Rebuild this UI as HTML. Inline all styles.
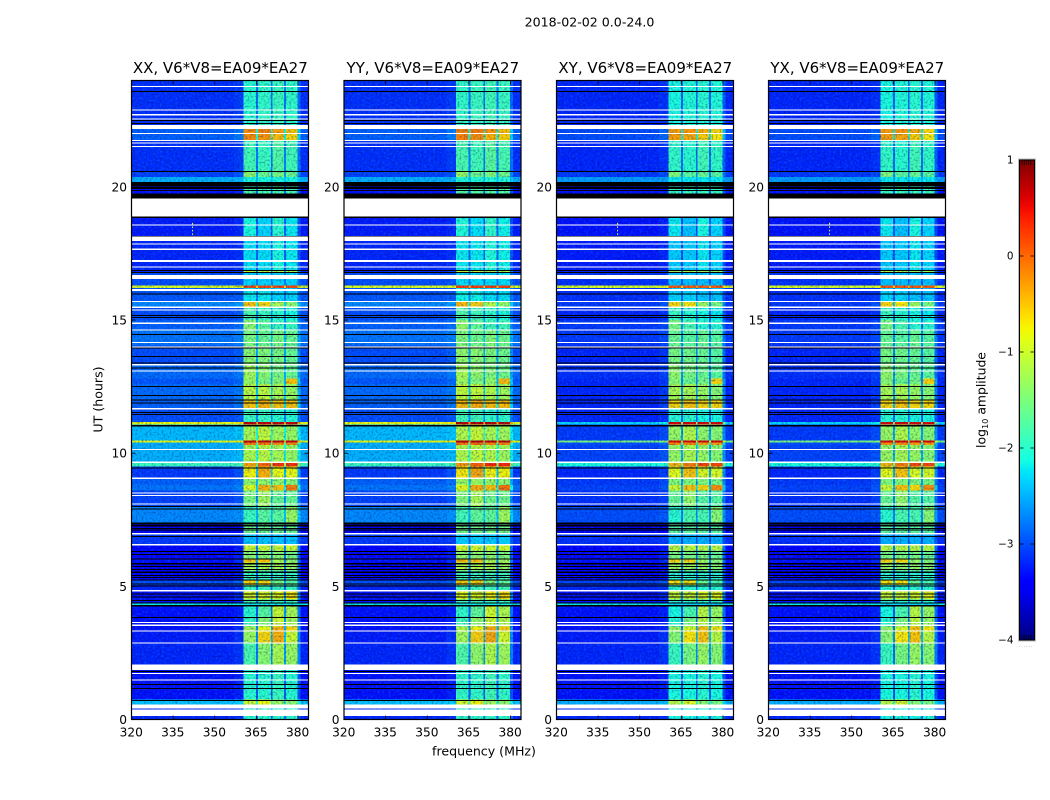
<!DOCTYPE html>
<html>
<head>
<meta charset="utf-8">
<title>2018-02-02 0.0-24.0</title>
<style>
html,body{margin:0;padding:0;background:#fff;width:1050px;height:800px;overflow:hidden}
svg{position:absolute;left:0;top:0;display:block}
text{font-family:"DejaVu Sans","Liberation Sans",sans-serif;fill:#000}
</style>
</head>
<body>
<svg id="chart" width="1050" height="800" viewBox="0 0 1050 800" xmlns="http://www.w3.org/2000/svg">
  <defs>
    <filter id="speckleDark" filterUnits="objectBoundingBox" x="0" y="0" width="1" height="1" color-interpolation-filters="sRGB">
      <feTurbulence type="fractalNoise" baseFrequency="0.5" numOctaves="1" seed="4"/>
      <feColorMatrix type="matrix" values="0 0 0 0 0  0 0 0 0 0  0 0 0 0 0.35  3.2 0 0 0 -1.45"/>
    </filter>
    <filter id="speckleLight" filterUnits="objectBoundingBox" x="0" y="0" width="1" height="1" color-interpolation-filters="sRGB">
      <feTurbulence type="fractalNoise" baseFrequency="0.45" numOctaves="1" seed="11"/>
      <feColorMatrix type="matrix" values="0 0 0 0 0.1  0 0 0 0 0.65  0 0 0 0 1  3.2 0 0 0 -1.5"/>
    </filter>
    <linearGradient id="colorbarGradient" x1="0" y1="1" x2="0" y2="0"></linearGradient>
  </defs>
  <text x="589.5" y="26.5" text-anchor="middle" font-size="12.6">2018-02-02 0.0-24.0</text>
  <text x="484" y="755.5" text-anchor="middle" font-size="12.6">frequency (MHz)</text>
  <text transform="translate(102.5,399.5) rotate(-90)" text-anchor="middle" font-size="12.6">UT (hours)</text>
  <text transform="translate(985.5,400) rotate(-90)" text-anchor="middle" font-size="12.4">log<tspan font-size="8.2" dy="2.5">10</tspan><tspan dy="-2.5"> amplitude</tspan></text>
  <g id="panels"></g>
  <g id="colorbar"></g>
</svg>
<script>
// ---- Figure data ----
const panelTitles = ['XX, V6*V8=EA09*EA27', 'YY, V6*V8=EA09*EA27', 'XY, V6*V8=EA09*EA27', 'YX, V6*V8=EA09*EA27'];
const panelIsCross = [false, false, true, true];
const panelSbOffset = [0, 0.05, -0.1, -0.1];
const panelHasRfi = [true, false, true, true];
const freqTicks = [320, 335, 350, 365, 380];
const utTicks = [0, 5, 10, 15, 20];
const colorbarTicks = [1, 0, -1, -2, -3, -4];

// Frequency column edges (MHz) and, per column, which sub-band it follows and how strongly
const freqEdges = [320, 357, 360.4, 364.8, 365.6, 370.2, 370.8, 375, 375.6, 379.8, 381, 383.8];
const columnSubband = [0, 0, 0, 0, 1, 1, 2, 2, 3, 3, 3];
const columnWeight = [0, 0.05, 1, 0.3, 1, 0.3, 1, 0.3, 1, 0.25, 0];

// UT band edges (hours, top to bottom) and log10 amplitude per band
const utEdges = [24, 22.33, 22.17, 22, 21.76, 20.6, 20.37, 20.19, 18.88, 18.16, 16.88, 16.77, 16.29, 16.2, 15.71, 15.5, 15, 14.6, 14.05, 13.35, 12.8, 12.6, 12, 11.65, 11.18, 11.07, 10.47, 10.4, 10.3, 9.68, 9.5, 9.05, 8.8, 8.6, 8, 7.4, 7, 6.55, 6.35, 6, 5.9, 5.6, 5.24, 5.05, 4.85, 4.5, 4.39, 4.3, 3.84, 3.5, 3.3, 2.88, 1.86, 0.75, 0.56, 0];
const bgCoPol = [-3.15, -3.15, -2.9, -2.9, -3.15, -3.05, -2.5, -3.3, -3.25, -3.2, -3.2, -3, -0.9, -2.95, -2.7, -3, -2.9, -2.8, -3, -2.85, -2.95, -2.85, -2.9, -3, -0.8, -2.45, -0.8, -2.5, -2.5, -1.9, -3.1, -2.9, -2.8, -3.05, -2.7, -3.5, -3.1, -3.4, -3.35, -3.3, -3.4, -3.35, -3, -3.2, -3.3, -3.3, -2.2, -3.3, -3.3, -3.3, -3.25, -3.2, -3.3, -2.4, -3.2];
const bgCrossPol = [-3.2, -3.2, -3, -3, -3.2, -3.1, -2.6, -3.3, -3.3, -3.25, -3.25, -3.15, -0.9, -3.15, -3.1, -3.2, -3.1, -3.1, -3.2, -3.15, -3.2, -3.2, -3.2, -3.2, -2.3, -3.1, -1.5, -3, -3.05, -2.1, -3.2, -3.1, -3.05, -3.15, -3, -3.5, -3.15, -3.4, -3.35, -3.3, -3.4, -3.35, -3.05, -3.2, -3.3, -3.3, -2.2, -3.3, -3.3, -3.3, -3.25, -3.2, -3.3, -2.5, -3.2];
const subbandA = [-2, -2, -0.2, -0.2, -1.85, -1.35, -2.1, -1.8, -2.1, -2.25, -1, -2.3, 0.2, -2.2, -0.5, -1.8, -1.4, -1.5, -1.4, -1.25, -1.3, -1.1, -0.5, -1.9, 0.7, -1.2, 0.7, -0.1, -1.2, -0.3, -0.75, -1.35, -0.9, -1.5, -1.9, -1.6, -2.4, -1, -1.4, -0.5, -1.2, -1.9, -0.6, -1.9, -0.9, -1.9, -2.2, -2, -1.9, -1.2, -1.3, -1.8, -2, -1, -2];
const subbandB = [-1.95, -1.95, -0.15, -0.25, -1.9, -1.6, -2.1, -1.8, -2.3, -2.25, -1, -2.3, 0.2, -2.2, -0.6, -1.9, -1.7, -1.6, -1.45, -1.4, -1.5, -1.1, -0.4, -1.9, 0.7, -1.05, 0.7, -0.1, -1.1, 0, -0.4, -1.35, -0.4, -1.25, -1.7, -1.6, -2.4, -1, -1.4, -0.5, -1.2, -1.9, -0.6, -1.9, -0.9, -1.9, -2.2, -1.7, -1.4, -0.8, -0.6, -1.4, -2, -0.8, -2];
const subbandC = [-1.9, -1.9, -0.3, -0.45, -1.75, -1.5, -2.1, -1.8, -2, -2.1, -1.1, -2.3, 0.2, -2.3, -1.2, -2, -1.9, -1.5, -1.5, -1.5, -1.4, -1.2, -0.5, -2, 0.7, -1.25, 0.7, -0.2, -1.2, 0.3, -0.8, -1.35, -0.5, -1.6, -1.7, -1.6, -2.4, -1, -1.4, -1.2, -1.2, -1.9, -1.5, -1.9, -0.8, -1.9, -2.2, -1, -1, -0.4, -0.4, -1.2, -1.9, -1.3, -2];
const subbandD = [-1.95, -1.95, -0.5, -0.6, -1.85, -1.6, -2.1, -1.8, -2.2, -2.2, -1.1, -2.3, 0.2, -2.3, -1.4, -2.1, -1.9, -1.6, -1.6, -1.6, -0.5, -1.3, -0.5, -2, 0.7, -1.3, 0.7, -0.2, -1.3, 0.3, -0.8, -1.4, -0.1, -1.6, -1.3, -1.6, -2.4, -1, -1.5, -1.3, -1.3, -1.9, -1.7, -1.9, -0.7, -1.9, -2.2, -1.2, -1.2, -0.6, -1, -1.3, -2, -1.4, -2];

// Time ranges (UT hours, upper then lower) with no data (white) or zero amplitude (black)
const noDataBands = [[23.79,23.75],[22.91,22.88],[22.73,22.69],[22.57,22.54],[22.33,22.17],[22.02,21.99],[21.76,21.72],[21.67,21.64],[21.53,21.49],[19.57,18.88],[18.59,18.57],[18.13,17.97],[17.88,17.84],[17.68,17.64],[17.25,17.18],[17.02,16.98],[16.69,16.54],[16.16,16.10],[15.71,15.68],[15.50,15.46],[15.40,15.37],[14.90,14.85],[14.65,14.60],[14.18,14.13],[14.00,13.98],[13.35,13.29],[13.10,13.06],[11.70,11.65],[10.16,10.12],[9.68,9.64],[9.09,9.03],[8.53,8.49],[8.43,8.39],[8.12,8.09],[7.01,6.94],[6.59,6.53],[4.86,4.81],[3.66,3.62],[3.56,3.52],[3.35,3.30],[2.90,2.86],[2.07,1.86],[1.75,1.72],[1.51,1.48],[0.56,0.42],[0.38,0.13]];
const zeroAmpBands = [[23.60,23.57],[22.51,22.48],[22.40,22.36],[20.60,20.57],[20.19,20.04],[20.01,19.93],[19.88,19.85],[19.76,19.57],[18.88,18.83],[18.16,18.13],[16.88,16.84],[16.80,16.77],[16.00,15.96],[15.19,15.16],[15.11,15.09],[14.48,14.45],[13.97,13.94],[13.65,13.61],[13.41,13.38],[13.22,13.20],[12.52,12.50],[12.18,12.15],[12.02,12.00],[11.90,11.87],[11.54,11.51],[11.48,11.46],[11.05,11.01],[9.47,9.44],[8.02,7.99],[7.92,7.89],[7.39,7.35],[7.33,7.30],[7.28,7.24],[7.20,7.17],[7.13,7.10],[6.89,6.86],[6.33,6.30],[6.21,6.19],[6.05,6.03],[5.88,5.83],[5.76,5.73],[5.66,5.63],[5.56,5.51],[5.43,5.40],[5.36,5.34],[5.26,5.24],[5.11,5.09],[5.04,5.01],[4.74,4.70],[4.61,4.59],[4.49,4.46],[4.39,4.36],[4.30,4.24],[3.84,3.81],[1.82,1.78],[1.33,1.30],[1.18,1.15],[0.73,0.71]];

// Narrow interference: frequency (MHz), UT span and level
const rfiFreq = 342;
const rfiUtSpan = [18.65, 18.18];
const rfiLevel = -0.9;

// Colour scale limits and colorbar minor ticks (log10 amplitude)
const colorMin = -4;
const colorMax = 1;
const colorbarEdgeTicks = [0.2, 0.4, 0.6, 0.8, 1];

// ---- Layout ----
const panelLefts = [131.5, 344, 556.5, 768.5];
const plot = {top: 80.5, bottom: 719.5, width: 177, freqMin: 320, freqMax: 383.8, utPerPx: 26.63};
const bar = {x: 1019.5, width: 15, top: 160, bottom: 640};
const NS = 'http://www.w3.org/2000/svg';

function xScale(panel, f) { return panelLefts[panel] + (f - plot.freqMin) / (plot.freqMax - plot.freqMin) * plot.width; }
function yScale(ut) { return Math.max(plot.top, Math.min(plot.bottom, plot.bottom - ut * plot.utPerPx)); }
function cScale(v) { return bar.bottom - (v - colorMin) / (colorMax - colorMin) * (bar.bottom - bar.top); }

function ramp(t, pts) {
  for (let i = 1; i < pts.length; i++) {
    if (t <= pts[i][0]) {
      const a = pts[i - 1], b = pts[i];
      return a[1] + (b[1] - a[1]) * (t - a[0]) / (b[0] - a[0]);
    }
  }
  return pts[pts.length - 1][1];
}
const jetR = [[0,0],[0.35,0],[0.66,1],[0.89,1],[1,0.5]];
const jetG = [[0,0],[0.125,0],[0.375,1],[0.64,1],[0.91,0],[1,0]];
const jetB = [[0,0.5],[0.11,1],[0.34,1],[0.65,0],[1,0]];
function jet(v) {
  const t = Math.max(0, Math.min(1, (v - colorMin) / (colorMax - colorMin)));
  const c = [ramp(t, jetR), ramp(t, jetG), ramp(t, jetB)].map(function (x) { return Math.round(x * 255); });
  return 'rgb(' + c[0] + ',' + c[1] + ',' + c[2] + ')';
}
function make(tag, parent, attrs) {
  const el = document.createElementNS(NS, tag);
  for (const k in attrs) el.setAttribute(k, attrs[k]);
  parent.appendChild(el);
  return el;
}

const subbands = [subbandA, subbandB, subbandC, subbandD];
const panelsRoot = document.getElementById('panels');

panelTitles.forEach(function (title, p) {
  const group = make('g', panelsRoot, {});
  
  
  const left = panelLefts[p];
  const bg = panelIsCross[p] ? bgCrossPol : bgCoPol;

  // heatmap cells
  const cells = make('g', group, {'shape-rendering': 'crispEdges'});
  
  
  for (let b = 0; b < utEdges.length - 1; b++) {
    const y0 = yScale(utEdges[b]), y1 = yScale(utEdges[b + 1]);
    for (let c = 0; c < freqEdges.length - 1; c++) {
      const x0 = xScale(p, freqEdges[c]), x1 = xScale(p, freqEdges[c + 1]);
      const sb = subbands[columnSubband[c]][b] + panelSbOffset[p];
      const level = bg[b] + columnWeight[c] * (sb - bg[b]);
      const cell = make('rect', cells, {x: x0.toFixed(2), y: y0.toFixed(2), width: (x1 - x0).toFixed(2), height: (y1 - y0).toFixed(2), fill: jet(level)});
      
      
    }
  }

  // speckle texture
  const speckleLight = make('rect', group, {x: left, y: plot.top, width: plot.width, height: plot.bottom - plot.top, fill: '#000', filter: 'url(#speckleLight)', opacity: 0.24});
  
  
  const speckleDark = make('rect', group, {x: left, y: plot.top, width: plot.width, height: plot.bottom - plot.top, fill: '#000', filter: 'url(#speckleDark)', opacity: 0.32});
  
  

  // narrow interference
  if (panelHasRfi[p]) {
    const rfi = make('line', group, {x1: xScale(p, rfiFreq), x2: xScale(p, rfiFreq), y1: yScale(rfiUtSpan[0]), y2: yScale(rfiUtSpan[1]), stroke: jet(rfiLevel), 'stroke-width': 1, 'stroke-dasharray': '1.5 2'});
    
    
  }

  // masked rows
  const masks = make('g', group, {'shape-rendering': 'crispEdges'});
  
  
  zeroAmpBands.forEach(function (r) {
    const y0 = yScale(r[0]), y1 = yScale(r[1]);
    const row = make('rect', masks, {x: left, y: y0.toFixed(2), width: plot.width, height: Math.max(1, y1 - y0).toFixed(2), fill: '#000'});
    
    
  });
  noDataBands.forEach(function (r) {
    const y0 = yScale(r[0]), y1 = yScale(r[1]);
    const row = make('rect', masks, {x: left, y: y0.toFixed(2), width: plot.width, height: Math.max(1, y1 - y0).toFixed(2), fill: '#fff'});
    
    
  });

  // frame
  const frame = make('rect', group, {x: left, y: plot.top, width: plot.width, height: plot.bottom - plot.top, fill: 'none', stroke: '#000', 'stroke-width': 1.2});
  
  

  // x ticks
  freqTicks.forEach(function (f) {
    const x = xScale(p, f);
    const t1 = make('line', group, {x1: x, x2: x, y1: plot.bottom, y2: plot.bottom - 4, stroke: '#000', 'stroke-width': 0.8});
    
    
    const t2 = make('line', group, {x1: x, x2: x, y1: plot.top, y2: plot.top + 4, stroke: '#000', 'stroke-width': 0.8});
    
    
    const label = make('text', group, {x: x - 0.3, y: 736.5, 'text-anchor': 'middle', 'font-size': 12.2});
    label.textContent = String(f);
    
    
  });

  // y ticks
  utTicks.forEach(function (u) {
    const y = yScale(u);
    const t1 = make('line', group, {x1: left, x2: left + 4, y1: y, y2: y, stroke: '#000', 'stroke-width': 0.8});
    
    
    const t2 = make('line', group, {x1: left + plot.width, x2: left + plot.width - 4, y1: y, y2: y, stroke: '#000', 'stroke-width': 0.8});
    
    
    const label = make('text', group, {x: left - 4.5, y: y + 4.5, 'text-anchor': 'end', 'font-size': 12.2});
    label.textContent = String(u);
    
    
  });

  const titleEl = make('text', group, {x: left + plot.width / 2 + 0.3, y: 73, 'text-anchor': 'middle', 'font-size': 15});
  titleEl.textContent = title;
  
  
});

// ---- Colorbar ----
const gradient = document.getElementById('colorbarGradient');
for (let i = 0; i <= 40; i++) {
  const v = colorMin + (colorMax - colorMin) * i / 40;
  make('stop', gradient, {offset: (i / 40 * 100) + '%', 'stop-color': jet(v)});
}
const cbRoot = document.getElementById('colorbar');
const halo = make('rect', cbRoot, {x: bar.x - 0.5, y: bar.top - 0.5, width: bar.width + 1, height: bar.bottom - bar.top + 1, fill: 'none', stroke: '#bbb', 'stroke-width': 2});


const body = make('rect', cbRoot, {x: bar.x, y: bar.top, width: bar.width, height: bar.bottom - bar.top, fill: 'url(#colorbarGradient)', stroke: '#000', 'stroke-width': 1});



colorbarTicks.forEach(function (v) {
  const y = cScale(v);
  const t1 = make('line', cbRoot, {x1: bar.x, x2: bar.x + 4, y1: y, y2: y, stroke: '#000', 'stroke-width': 0.8});
  
  
  const t2 = make('line', cbRoot, {x1: bar.x + bar.width, x2: bar.x + bar.width - 4, y1: y, y2: y, stroke: '#000', 'stroke-width': 0.8});
  
  
  const label = make('text', cbRoot, {x: 1013.5, y: y + 3.5, 'text-anchor': 'end', 'font-size': 10.4});
  label.textContent = String(v).replace('-', '\u2212');
  
  
});

colorbarEdgeTicks.forEach(function (v) {
  const x = bar.x + 2.5 + (v - colorbarEdgeTicks[0]) * (bar.width - 4);
  const t1 = make('line', cbRoot, {x1: x, x2: x, y1: bar.top, y2: bar.top + 5, stroke: '#000', 'stroke-width': 0.7});
  
  
  const t2 = make('line', cbRoot, {x1: x, x2: x, y1: bar.bottom, y2: bar.bottom - 5, stroke: '#000', 'stroke-width': 0.7});
  
  
});
const dots = make('text', cbRoot, {x: 1026, y: 646.5, 'text-anchor': 'middle', 'font-size': 4.5, 'letter-spacing': '1'});
dots.textContent = '......';
dots.style.fill = '#555';


</script>
</body>
</html>
